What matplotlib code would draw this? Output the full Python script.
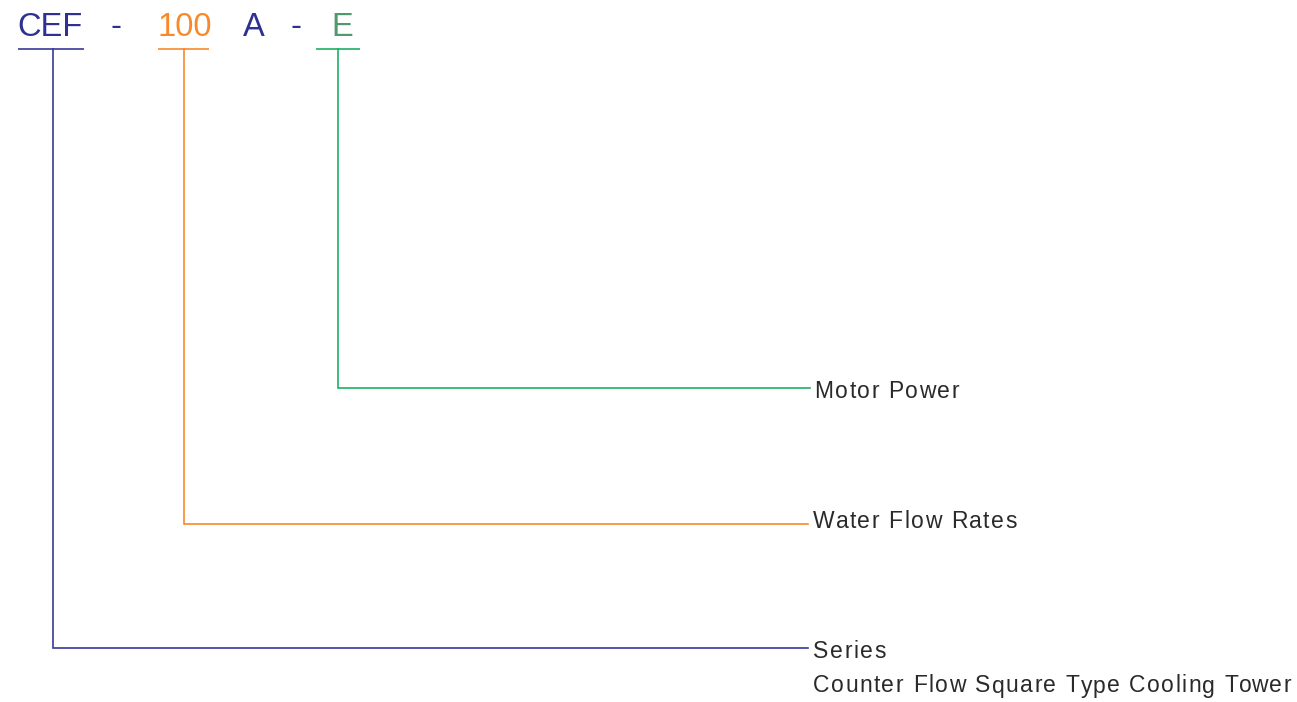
import matplotlib.pyplot as plt
from matplotlib.font_manager import FontProperties

# model code parts and what each one means
CODE_PARTS = ["CEF", "-", "100", "A", "-", "E"]
CODE_COLORS = ["#2e3192", "#2e3192", "#f7892a", "#2e3192", "#2e3192", "#4e9a6e"]

LABELS = ["Series\nCounter Flow Square Type Cooling Tower", "Water Flow Rates", "Motor Power"]
LINE_COLORS = ["#3a3a9a", "#f7892a", "#1db064"]

# layout in pixel units (x right, y down)
PART_X = [17.5, 110, 157, 243, 291, 331]
UNDERLINE = [(18, 84), (158, 209), (316, 360)]
STEM_X = [53, 184, 338]
ELBOW_Y = [648, 524, 388]
LINE_END = [808, 808, 810]
LABEL_X = [813, 813, 814.5]
LABEL_BASE = [[658, 692.5], [527.5], [398.3]]
SPACING = 1.5

W, H = 1297, 702

fig = plt.figure(figsize=(W / 100, H / 100), dpi=100)
ax = fig.add_axes([0, 0, 1, 1])
ax.set_xlim(0, W)
ax.set_ylim(H, 0)
ax.axis("off")

renderer = fig.canvas.get_renderer()
prop = FontProperties(family="Liberation Sans", size=16.5)


def text_w(s):
    w, _, _ = renderer.get_text_width_height_descent(s, prop, ismath=False)
    return w


def spaced_text(x, y, s, color):
    # draw one glyph at a time to get the wide letter spacing
    bar = text_w("|")
    for i, ch in enumerate(s):
        if ch == " ":
            continue
        xi = x + text_w(s[:i] + "|") - bar + i * SPACING
        ax.text(xi, y, ch, color=color, fontproperties=prop,
                va="baseline", ha="left")


for txt, col, x in zip(CODE_PARTS, CODE_COLORS, PART_X):
    ax.text(x, 36, txt, color=col, fontsize=23.5, family="Liberation Sans",
            va="baseline", ha="left")

for (x0, x1), sx, ey, xe, col, lab, lx, bases in zip(
        UNDERLINE, STEM_X, ELBOW_Y, LINE_END, LINE_COLORS, LABELS, LABEL_X, LABEL_BASE):
    ax.plot([x0, x1], [49, 49], color=col, lw=1.2, solid_capstyle="butt")
    ax.plot([sx, sx, xe], [49, ey, ey], color=col, lw=1.2,
            solid_joinstyle="miter")
    for line, by in zip(lab.split("\n"), bases):
        spaced_text(lx, by, line, "#2a2a2a")

fig.savefig("out.png", dpi=100, facecolor="white")
